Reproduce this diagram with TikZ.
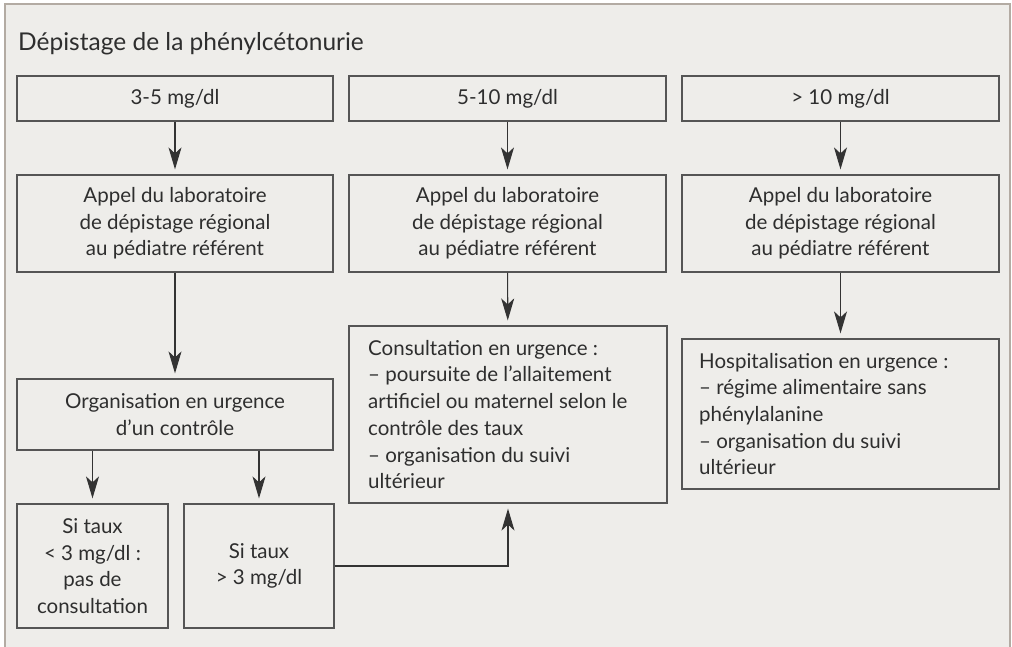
\documentclass[tikz,border=0pt]{standalone}
\usepackage{fontspec}
\setmainfont{Lato}
\usetikzlibrary{arrows.meta}
\definecolor{bg}{HTML}{EEEDEA}
\definecolor{framec}{HTML}{B3ABA3}
\definecolor{boxline}{HTML}{555555}
\definecolor{txt}{HTML}{2E2E2E}
\definecolor{arrline}{HTML}{333333}
\begin{document}
\begin{tikzpicture}[x=1pt,y=-1pt,
  box/.style={draw=boxline, line width=1.2pt, rectangle, inner sep=0pt, align=center,
    text=txt, font=\fontsize{20.5}{26.7}\selectfont},
  plain/.style={inner sep=0pt, align=left, text=txt, font=\fontsize{20.5}{26.7}\selectfont},
  arr/.style={draw=arrline, line width=1.1pt, -{Stealth[length=22pt,width=13pt,inset=6pt]}, shorten >=5pt}
]
\useasboundingbox (0,0) rectangle (1012,647);
\fill[bg] (5,4) rectangle (1010,647);
\draw[framec, line width=1.5pt] (5,647) -- (5,4) -- (1010,4) -- (1010,647);

\node[anchor=base west, inner sep=0pt, text=txt, font=\fontsize{24.5}{28}\selectfont] (title) at (18,51) {Dépistage de la phénylcétonurie};

% row 1
\node[box, minimum width=316pt, minimum height=45pt] (t1) at (175,98.5) {3-5 mg/dl};
\node[box, minimum width=317pt, minimum height=45pt] (t2) at (507.5,98.5) {5-10 mg/dl};
\node[box, minimum width=317pt, minimum height=45pt] (t3) at (840.5,98.5) {> 10 mg/dl};

% row 2
\node[box, minimum width=316pt, minimum height=97pt] (a1) at (175,223.5) {Appel du laboratoire\\de dépistage régional\\au pédiatre référent};
\node[box, minimum width=317pt, minimum height=97pt] (a2) at (507.5,223.5) {Appel du laboratoire\\de dépistage régional\\au pédiatre référent};
\node[box, minimum width=317pt, minimum height=97pt] (a3) at (840.5,223.5) {Appel du laboratoire\\de dépistage régional\\au pédiatre référent};

% left column
\node[box, minimum width=316pt, minimum height=71pt] (o) at (175,414.5) {Organisation en urgence\\d’un contrôle};
\node[box, minimum width=151pt, minimum height=124pt] (s1) at (92.5,566) {Si taux\\< 3 mg/dl :\\pas de\\consultation};
\node[box, minimum width=150pt, minimum height=124pt] (s2) at (259,566) {Si taux\\> 3 mg/dl};

% middle / right
\node[box, minimum width=318pt, minimum height=177pt] (c) at (508,414.5) {};
\node[plain, anchor=west] (ctext) at (368,414.5) {Consultation en urgence :\\– poursuite de l’allaitement\\artificiel ou maternel selon le\\contrôle des taux\\– organisation du suivi\\ultérieur};
\node[box, minimum width=317pt, minimum height=150pt] (h) at (840.5,414) {};
\node[plain, anchor=west] (htext) at (699,414) {Hospitalisation en urgence :\\– régime alimentaire sans\\phénylalanine\\– organisation du suivi\\ultérieur};

% arrows
\draw[arr] (t1) -- (a1);
\draw[arr] (t2) -- (a2);
\draw[arr] (t3) -- (a3);
\draw[arr] (a1) -- (o);
\draw[arr] (a2) -- (c);
\draw[arr] (a3) -- (h);
\draw[arr] (o.south -| s1.north) -- (s1.north);
\draw[arr] (o.south -| s2.north) -- (s2.north);
\draw[arr] (s2.east) -| (c.south);
\end{tikzpicture}
\end{document}
